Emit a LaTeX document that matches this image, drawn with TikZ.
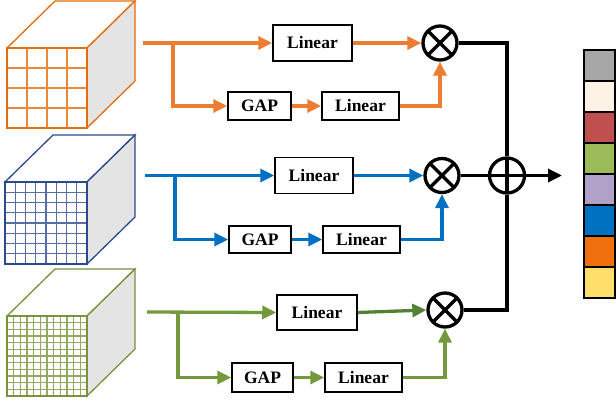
\documentclass[tikz,border=0pt]{standalone}
\usepackage{fontspec}
\setmainfont{Liberation Serif}
\usetikzlibrary{arrows.meta}

\definecolor{lnOr}{HTML}{ED7D31}
\definecolor{lnBl}{HTML}{0070C0}
\definecolor{lnGr}{HTML}{74993D}
\definecolor{lnGrD}{HTML}{548235}
\definecolor{cbOr}{HTML}{E46C0A}
\definecolor{cbBl}{HTML}{2B4A8C}
\definecolor{cbGr}{HTML}{77933C}
\definecolor{sideG}{HTML}{E4E4E4}
\definecolor{barA}{HTML}{A6A6A6}
\definecolor{barB}{HTML}{FEF2E6}
\definecolor{barC}{HTML}{C0504D}
\definecolor{barD}{HTML}{9BBB59}
\definecolor{barE}{HTML}{B1A0C7}
\definecolor{barF}{HTML}{0070C0}
\definecolor{barG}{HTML}{F07010}
\definecolor{barH}{HTML}{FFDF6B}

\begin{document}
\begin{tikzpicture}[x=1pt,y=-1pt,
  blk/.style={draw,line width=1.5pt,inner sep=0pt,font=\fontsize{17.5}{17.5}\selectfont\bfseries},
  flow/.style={line width=3.3pt,-{Triangle[length=14pt,width=13pt]}},
  wire/.style={line width=3.3pt},
  otimes/.style={circle,draw,line width=3.3pt,minimum size=34pt,inner sep=0pt,
    path picture={\draw[line width=3.3pt] (path picture bounding box.north west)--(path picture bounding box.south east)
      (path picture bounding box.north east)--(path picture bounding box.south west);}},
  oplus/.style={circle,draw,line width=3.3pt,minimum size=35pt,inner sep=0pt,
    path picture={\draw[line width=3.3pt] (path picture bounding box.north)--(path picture bounding box.south)
      (path picture bounding box.west)--(path picture bounding box.east);}},
  cell/.style={draw,line width=1.5pt,minimum width=31pt,minimum height=31pt,inner sep=0pt}]
\useasboundingbox (0,0) rectangle (616,400);

% feature cubes
\foreach \x/\y/\s/\n/\c in {7/48/80/4/cbOr,5/182/82/8/cbBl,7/316/80/12/cbGr}{
  \filldraw[draw=\c,fill=white,line width=1.3pt] (\x,\y) -- ++(48,-47) -- ++(\s,0) -- ++(-48,47) -- cycle;
  \filldraw[draw=\c,fill=sideG,line width=1.3pt] (\x+\s,\y) -- ++(48,-47) -- ++(0,\s) -- ++(-48,47) -- cycle;
  \fill[white] (\x,\y) rectangle ++(\s,\s);
  \foreach \k in {1,...,\n}
    \draw[\c!80,line width=1.1pt] (\x+\k*\s/\n,\y) -- ++(0,\s) (\x,\y+\k*\s/\n) -- ++(\s,0);
  \draw[\c,line width=2pt] (\x,\y) rectangle ++(\s,\s);
}

% blocks
\node[blk,minimum width=79pt,minimum height=36pt] (lin1) at (312.5,43) {Linear};
\node[blk,minimum width=63pt,minimum height=28pt] (gap1) at (259.5,106) {GAP};
\node[blk,minimum width=77pt,minimum height=28pt] (lin1b) at (360.5,106) {Linear};
\node[blk,minimum width=78pt,minimum height=36pt] (lin2) at (314,175.5) {Linear};
\node[blk,minimum width=62pt,minimum height=27pt] (gap2) at (260,239.5) {GAP};
\node[blk,minimum width=77pt,minimum height=27pt] (lin2b) at (361.5,239.5) {Linear};
\node[blk,minimum width=80pt,minimum height=35pt] (lin3) at (317,312.5) {Linear};
\node[blk,minimum width=61pt,minimum height=29pt] (gap3) at (262.5,377.5) {GAP};
\node[blk,minimum width=77pt,minimum height=29pt] (lin3b) at (363.5,377.5) {Linear};

\node[otimes] (ot1) at (440,43) {};
\node[otimes] (ot2) at (442,175.5) {};
\node[otimes] (ot3) at (445,310) {};
\node[oplus] (op) at (507,175.5) {};

\coordinate (s1) at (143,43);
\coordinate (b1) at (173,43);
\coordinate (s2) at (145,175.5);
\coordinate (b2) at (175,175.5);
\coordinate (s3) at (147,312);
\coordinate (b3) at (178,312);
\coordinate (out) at (562,175.5);

% orange branch
\draw[flow,lnOr] (s1) -- (lin1.west);
\draw[flow,lnOr] (b1) |- (gap1.west);
\draw[flow,lnOr] (gap1.east) -- (lin1b.west);
\draw[flow,lnOr] (lin1.east) -- (ot1.west);
\draw[flow,lnOr] (lin1b.east) -| (ot1.south);
% blue branch
\draw[flow,lnBl] (s2) -- (lin2.west);
\draw[flow,lnBl] (b2) |- (gap2.west);
\draw[flow,lnBl] (gap2.east) -- (lin2b.west);
\draw[flow,lnBl] (lin2.east) -- (ot2.west);
\draw[flow,lnBl] (lin2b.east) -| (ot2.south);
% green branch
\draw[flow,lnGr] (s3) -- (lin3.west);
\draw[flow,lnGr] (b3) |- (gap3.west);
\draw[flow,lnGr] (gap3.east) -- (lin3b.west);
\draw[flow,lnGrD] (lin3.east) -- (ot3.west);
\draw[flow,lnGr] (lin3b.east) -| (ot3.south);

% fusion
\draw[wire] (ot1.east) -| (op.north);
\draw[wire] (ot3.east) -| (op.south);
\draw[wire] (ot2.east) -- (op.west);
\draw[flow] (op.east) -- (out);

% colour bar
\foreach \c [count=\i] in {barA,barB,barC,barD,barE,barF,barG,barH}
  \node[cell,fill=\c] (c\i) at (599.5,34.5+31*\i) {};
\end{tikzpicture}
\end{document}
